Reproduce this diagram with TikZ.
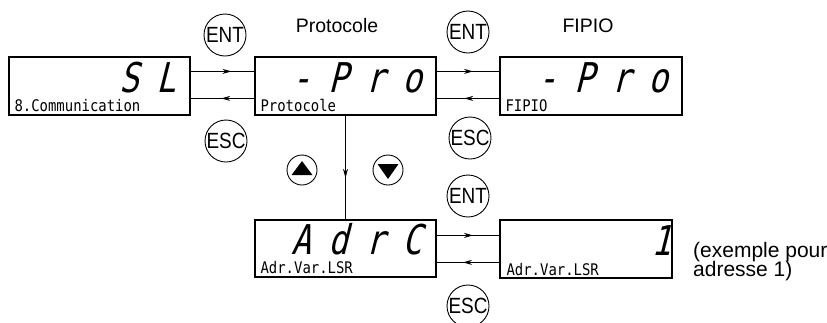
\documentclass[tikz,border=0pt]{standalone}
\usepackage{fontspec}
\setmainfont{Liberation Sans}
\newfontfamily\lcdsmallfont{DejaVu Sans Mono}[FakeStretch=0.87]
\newfontfamily\lcdbigfont{DejaVu Sans Mono}[FakeSlant=0.25,FakeStretch=0.8]
\newfontfamily\keyfont{Liberation Sans}[FakeStretch=0.86]
\usetikzlibrary{decorations.markings,arrows.meta,calc}
\newcommand\dg[1]{\makebox[37bp][c]{#1}}
\tikzset{
  lcdbox/.style={draw, line width=1.2bp, inner sep=0pt, minimum height=58bp},
  bigtxt/.style={inner sep=0pt, anchor=base east, text depth=0pt, text height=30bp, font=\lcdbigfont\fontsize{41bp}{41bp}\selectfont},
  smalltxt/.style={inner sep=0pt, anchor=base west, text height=11.5bp, font=\lcdsmallfont\fontsize{16bp}{16bp}\selectfont},
  key/.style={circle, draw, line width=0.9bp, minimum size=42bp, inner sep=0pt, font=\keyfont\fontsize{22bp}{22bp}\selectfont},
  arrkey/.style={circle, draw, line width=0.9bp, minimum size=30bp, inner sep=0pt},
  lbl/.style={inner sep=0pt, font=\fontsize{19.5bp}{19.5bp}\selectfont},
  conn/.style={line width=0.9bp},
  midarrow/.style={postaction={decorate}, decoration={markings, mark=at position #1 with {\arrow{Stealth[length=9bp,width=5bp]}}}},
}
\begin{document}
\begin{tikzpicture}[x=1bp,y=-1bp]
\useasboundingbox (0,0) rectangle (827,322);
\clip (0,0) rectangle (827,322);
% display boxes
\node[lcdbox, minimum width=181bp] (b1) at (99.5,86) {};
\node[lcdbox, minimum width=181bp] (b2) at (345.5,86) {};
\node[lcdbox, minimum width=182bp] (b3) at (591,86) {};
\node[lcdbox, minimum width=181bp, minimum height=57bp] (b4) at (345.5,248.5) {};
\node[lcdbox, minimum width=172bp] (b5) at (586,249) {};
% big characters
\node[bigtxt] (t1) at ($(b1.north east)+(-5.5,36)$) {\dg{S}\dg{L}};
\node[bigtxt] (t2) at ($(b2.north east)+(-5.5,36)$) {\dg{-}\dg{P}\dg{r}\dg{o}};
\node[bigtxt] (t3) at ($(b3.north east)+(-5.5,36)$) {\dg{-}\dg{P}\dg{r}\dg{o}};
\node[bigtxt] (t4) at ($(b4.north east)+(-5.5,35)$) {\dg{A}\dg{d}\dg{r}\dg{C}};
\node[bigtxt, anchor=base] (t5) at ($(b5.north east)+(-11,36)$) {1};
% small texts
\node[smalltxt] (s1) at ($(b1.south west)+(6,-4)$) {8.Communication};
\node[smalltxt] (s2) at ($(b2.south west)+(6,-4)$) {Protocole};
\node[smalltxt] (s3) at ($(b3.south west)+(6,-4)$) {FIPIO};
\node[smalltxt] (s4) at ($(b4.south west)+(6,-4)$) {Adr.Var.LSR};
\node[smalltxt] (s5) at ($(b5.south west)+(7,-3)$) {Adr.Var.LSR};
% connectors
\draw[conn, midarrow=0.64] ($(b1.north east)+(0,15)$) -- ($(b2.north west)+(0,15)$);
\draw[conn, midarrow=0.52] ($(b2.north west)+(0,42)$) -- ($(b1.north east)+(0,42)$);
\draw[conn, midarrow=0.58] ($(b2.north east)+(0,15)$) -- ($(b3.north west)+(0,15)$);
\draw[conn, midarrow=0.56] ($(b3.north west)+(0,42)$) -- ($(b2.north east)+(0,42)$);
\draw[conn, midarrow=0.58] ($(b4.north east)+(0,16)$) -- ($(b5.north west)+(0,16)$);
\draw[conn, midarrow=0.58] ($(b5.north west)+(0,43)$) -- ($(b4.north east)+(0,43)$);
\draw[conn, midarrow=0.6] (b2.south) -- (b4.north);
% keys
\node[key] (ent1) at (225,35) {ENT};
\node[key] (esc1) at (226,141) {ESC};
\node[key] (ent2) at (468,32) {ENT};
\node[key] (esc2) at (470,138) {ESC};
\node[key] (ent3) at (468,196) {ENT};
\node[key] (esc3) at (468,306) {ESC};
\node[arrkey] (up) at (302,170) {};
\node[arrkey] (down) at (388,170) {};
\fill ($(up)+(-10.5,5)$) -- ($(up)+(10.5,5)$) -- ($(up)+(0,-9)$) -- cycle;
\fill ($(down)+(-10.5,-6)$) -- ($(down)+(10.5,-6)$) -- ($(down)+(0,9)$) -- cycle;
% labels
\node[lbl, anchor=base] (lproto) at (337,32) {Protocole};
\node[lbl, anchor=base] (lfipio) at (588,32) {FIPIO};
\node[lbl, anchor=base west, font=\fontsize{21bp}{21bp}\selectfont] (lex1) at (693,257) {(exemple pour};
\node[lbl, anchor=base west, font=\fontsize{21bp}{21bp}\selectfont] (lex2) at (693,276.5) {adresse 1)};
\end{tikzpicture}
\end{document}
